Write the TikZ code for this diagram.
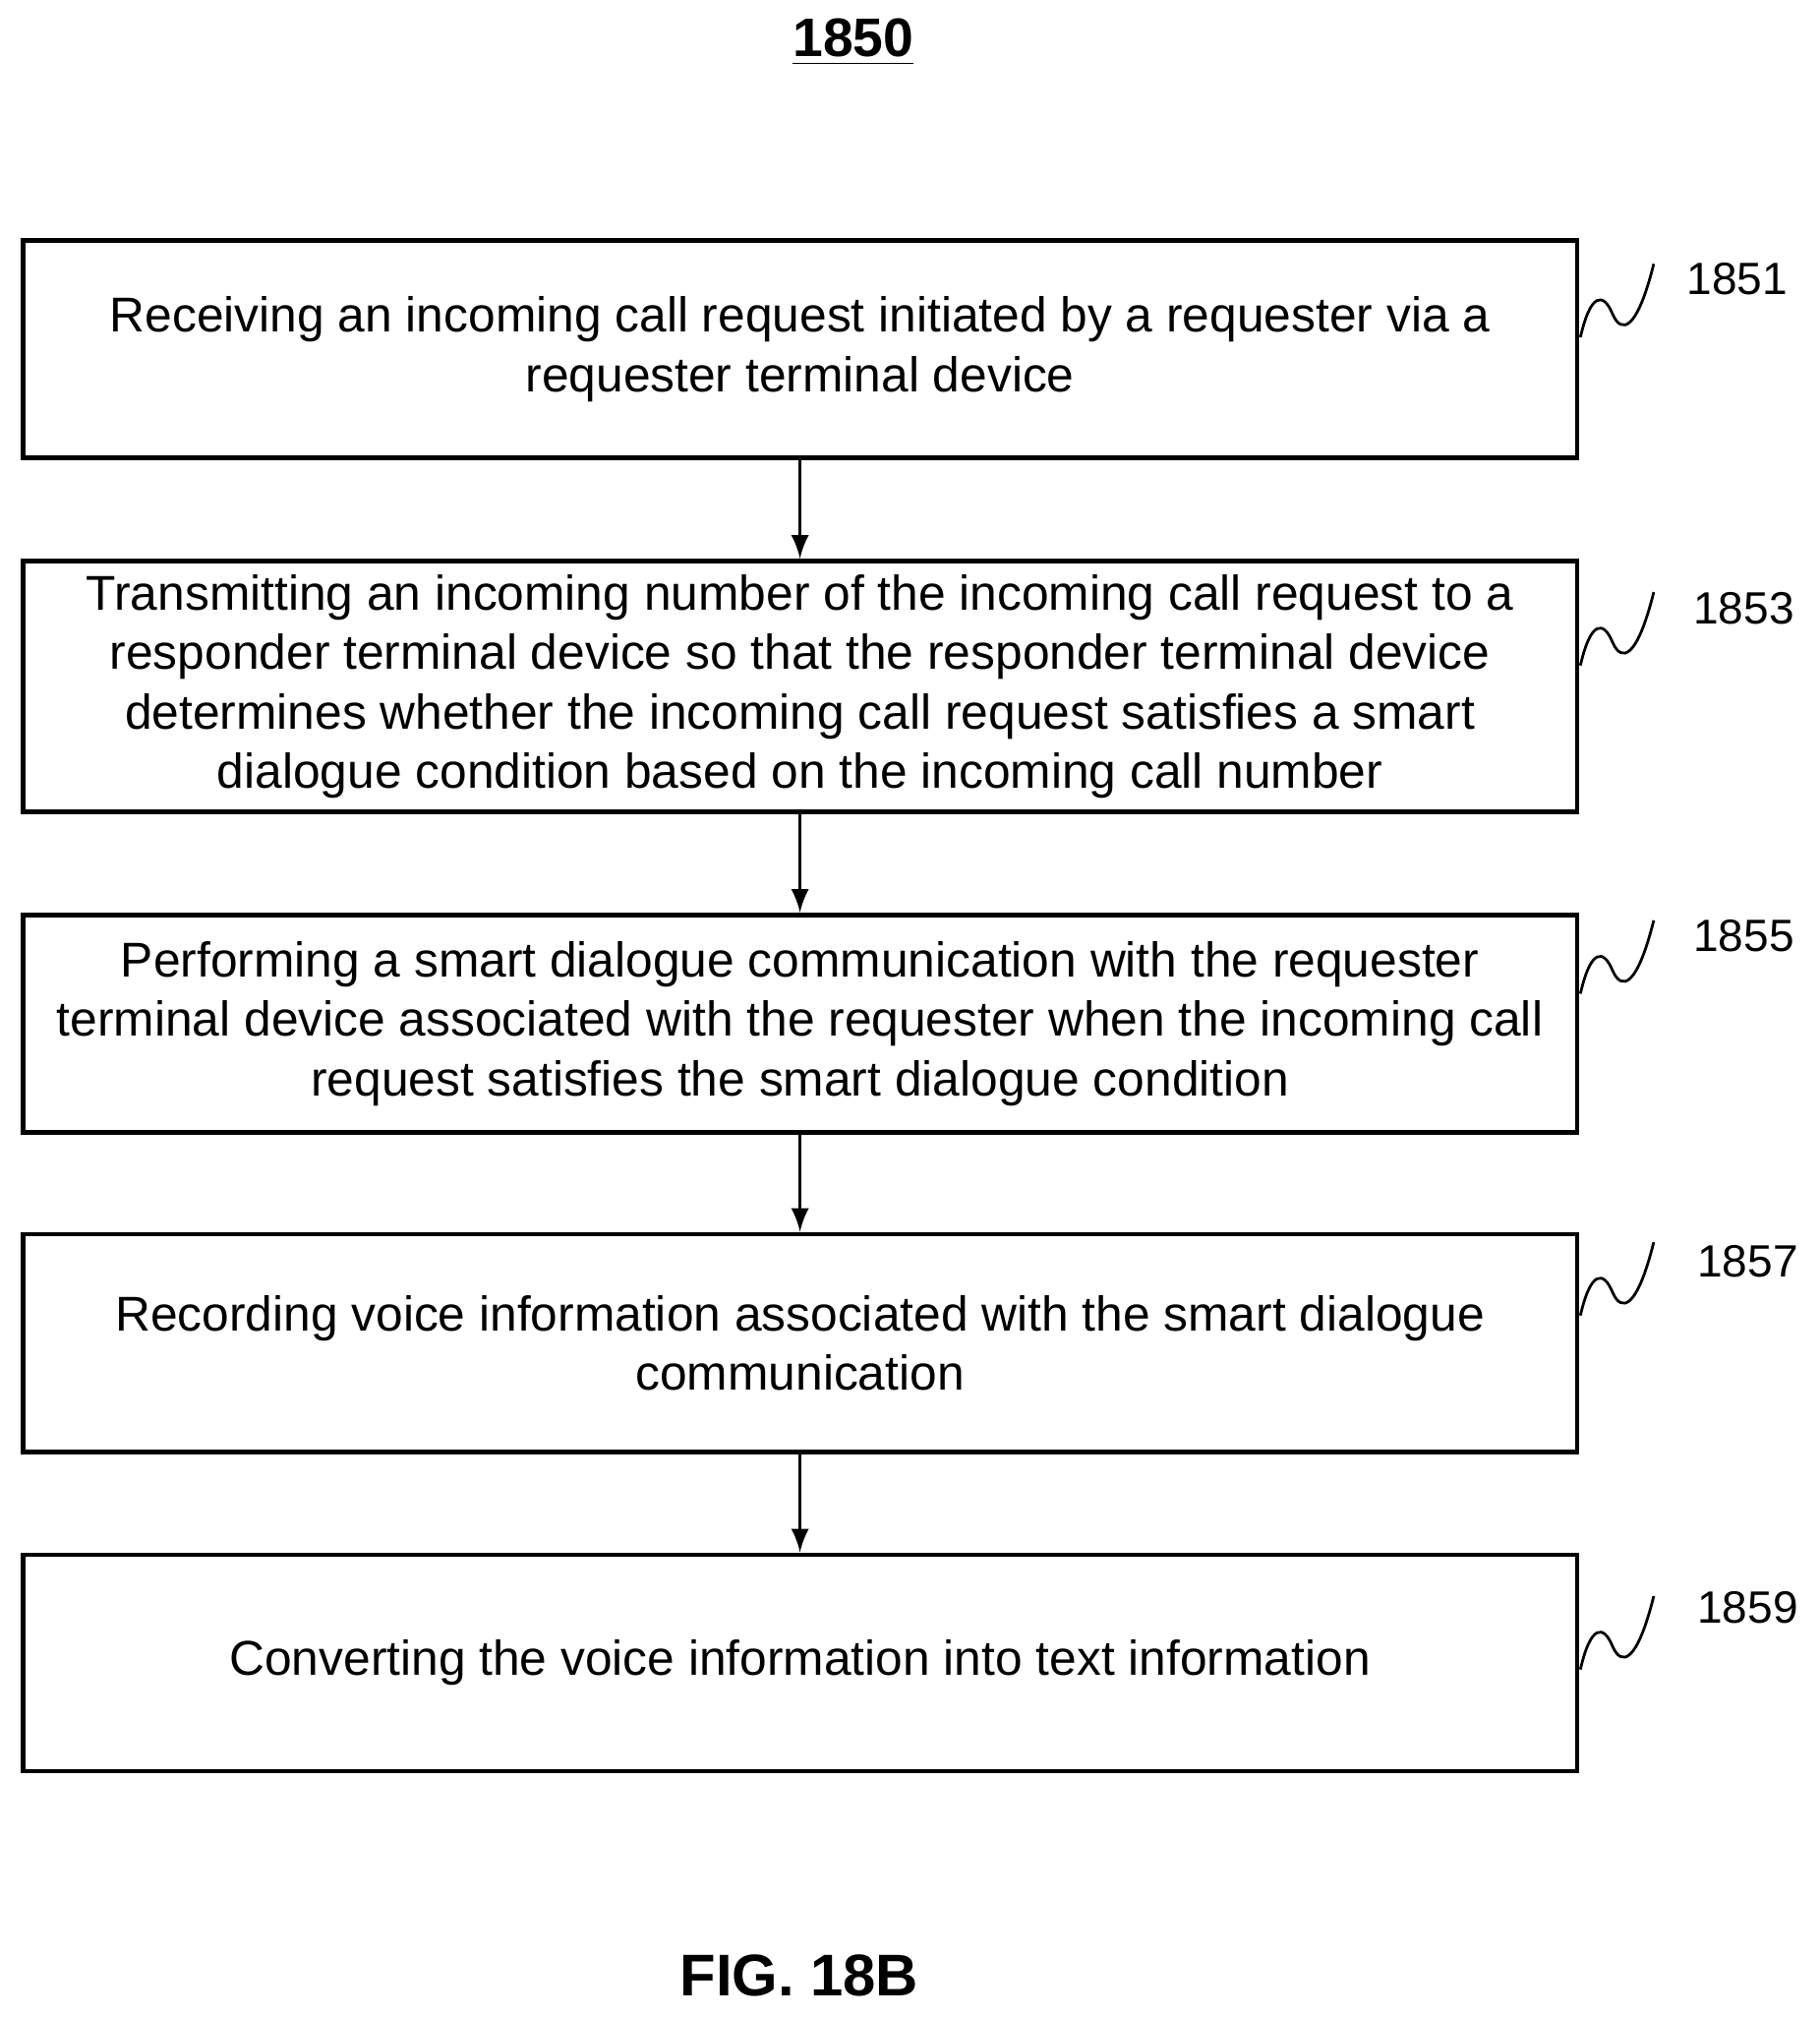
\documentclass[tikz,border=0pt]{standalone}
\usepackage{fontspec}
\setmainfont{Liberation Sans}
\begin{document}
\begin{tikzpicture}[x=0.01cm,y=-0.01cm,
 box/.style={draw,line width=1pt,minimum width=12.07cm,anchor=north west,inner sep=0pt,align=center,font=\fontsize{10.8}{13.1}\selectfont},
 lab/.style={font=\fontsize{10}{12}\selectfont},
 arr/.style={->,>=latex,line width=0.8pt},
 sq/.style={line width=0.6pt}]
\useasboundingbox (0,0) rectangle (1414,1567);
\node[font=\bfseries\fontsize{12}{14}\selectfont] (t) at (663,33) {\underline{1850}};
\node[box,minimum height=1.69cm] (b1) at (16,185) {Receiving an incoming call request initiated by a requester via a\\requester terminal device};
\node[box,minimum height=1.95cm] (b2) at (16,434) {Transmitting an incoming number of the incoming call request to a\\responder terminal device so that the responder terminal device\\determines whether the incoming call request satisfies a smart\\dialogue condition based on the incoming call number};
\node[box,minimum height=1.69cm] (b3) at (16,709) {Performing a smart dialogue communication with the requester\\terminal device associated with the requester when the incoming call\\request satisfies the smart dialogue condition};
\node[box,minimum height=1.69cm] (b4) at (16,957) {Recording voice information associated with the smart dialogue\\communication};
\node[box,minimum height=1.68cm] (b5) at (16,1206) {Converting the voice information into text information};
\foreach \a/\b in {b1/b2,b2/b3,b3/b4,b4/b5} \draw[arr] (\a.south) -- (\b.north);
\foreach \i/\y/\lx/\ly in {1/262/1350/217,2/517/1355/473,3/772/1355/727,4/1022/1358/980,5/1297/1358/1249}{
 \node[lab] (l\i) at (\lx,\ly) {185\the\numexpr2*\i-1\relax};
 \coordinate (s\i) at (1228,\y);
 \coordinate (e\i) at (1285,\y-57);
 \draw[sq] (s\i) .. controls (1236,\y-35) and (1246,\y-35) .. (1253,\y-18) .. controls (1260,\y-2) and (1272,\y-5) .. (e\i);
}
\node[font=\bfseries\fontsize{13}{15}\selectfont] (f) at (621,1535) {FIG. 18B};
\end{tikzpicture}
\end{document}
